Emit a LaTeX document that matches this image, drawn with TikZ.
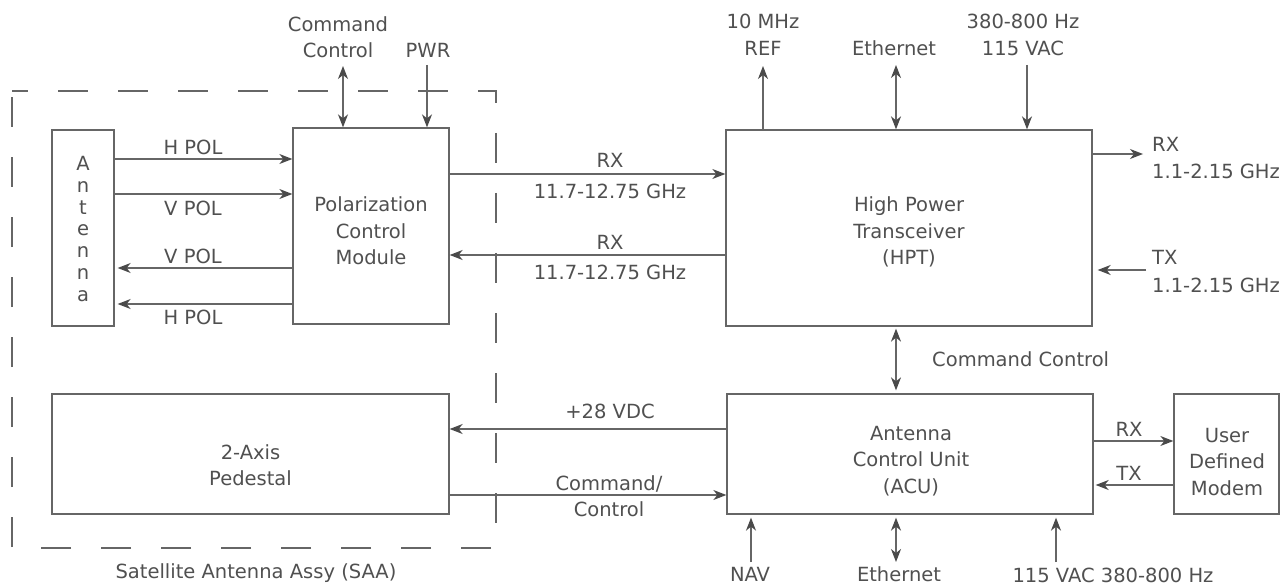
\documentclass[tikz,border=0pt]{standalone}
\usepackage{fontspec}
\setmainfont{DejaVu Sans}
\usetikzlibrary{arrows.meta}
\definecolor{ln}{HTML}{666666}
\definecolor{tx}{HTML}{505050}
\definecolor{hd}{HTML}{4A4A4A}
\begin{document}
\begin{tikzpicture}[x=1pt,y=-1pt,
  every node/.style={text=tx, font=\fontsize{19.5}{26.5}\selectfont, inner sep=0pt},
  box/.style={draw=ln, line width=1.3pt},
  btext/.style={align=center},
  lab/.style={anchor=base},
  labw/.style={anchor=base west},
  conn/.style={draw=ln, line width=1.3pt},
  arr/.style={conn, -{Stealth[length=13pt,width=10pt,inset=4pt,color=hd]}},
  darr/.style={conn, {Stealth[length=13pt,width=10pt,inset=4pt,color=hd]}-{Stealth[length=13pt,width=10pt,inset=4pt,color=hd]}},
  dashbox/.style={draw=ln, line width=1.2pt, dash pattern=on 30pt off 30pt, dash phase=14pt}
]
\useasboundingbox[fill=white] (0,0) rectangle (1281,585);

% dashed enclosure
\draw[dashbox] (12,91) -- (496,91) -- (496,548) -- (12,548) -- cycle;
\node[lab] (saa) at (256,578) {Satellite Antenna Assy (SAA)};

% boxes
\node[box, minimum width=62pt, minimum height=196pt] (ant) at (83,228) {};
\node[btext, font=\fontsize{19.5}{21.7}\selectfont] (antt) at (83,229) {A\\n\\t\\e\\n\\n\\a};
\node[box, minimum width=156pt, minimum height=196pt] (pcm) at (371,226) {};
\node[btext] (pcmt) at (371,231) {Polarization\\Control\\Module};
\node[box, minimum width=366pt, minimum height=196pt] (hpt) at (909,228) {};
\node[btext] (hptt) at (909,232) {High Power\\Transceiver\\(HPT)};
\node[box, minimum width=397pt, minimum height=120pt] (ped) at (250.5,454) {};
\node[btext] (pedt) at (250.5,465) {2-Axis\\Pedestal};
\node[box, minimum width=366pt, minimum height=120pt] (acu) at (910,454) {};
\node[btext] (acut) at (911,461) {Antenna\\Control Unit\\(ACU)};
\node[box, minimum width=105pt, minimum height=120pt] (mod) at (1226.5,454) {};
\node[btext] (modt) at (1227,462) {User\\Defined\\Modem};

% antenna <-> PCM
\draw[arr] (ant.east |- 0,159) -- (pcm.west |- 0,159);
\draw[arr] (ant.east |- 0,194) -- (pcm.west |- 0,194);
\draw[arr, shorten >=3pt] (pcm.west |- 0,268) -- (ant.east |- 0,268);
\draw[arr, shorten >=3pt] (pcm.west |- 0,304) -- (ant.east |- 0,304);
\node[lab] (hp1) at (193,155) {H POL};
\node[lab] (vp1) at (193,216) {V POL};
\node[lab] (vp2) at (193,263) {V POL};
\node[lab] (hp2) at (193,324) {H POL};

% PCM top
\coordinate (ccp) at (343,66);
\coordinate (pwr) at (427,65);
\draw[darr] (ccp) -- (pcm.north -| ccp);
\draw[arr] (pwr) -- (pcm.north -| pwr);
\node[lab] (cc1) at (338,32) {Command};
\node[lab] (cc2) at (338,58) {Control};
\node[lab] (pw) at (428,58) {PWR};

% PCM <-> HPT
\draw[arr] (pcm.east |- 0,174) -- (hpt.west |- 0,174);
\draw[arr] (hpt.west |- 0,255) -- (pcm.east |- 0,255);
\node[lab] (rx1) at (610,168) {RX};
\node[lab] (f1) at (610,199) {11.7-12.75 GHz};
\node[lab] (rx2) at (610,249) {RX};
\node[lab] (f2) at (610,279) {11.7-12.75 GHz};

% HPT top
\coordinate (ref) at (763,66);
\coordinate (eth1) at (896,65);
\coordinate (vac1) at (1027,65);
\draw[arr] (hpt.north -| ref) -- (ref);
\draw[darr] (eth1) -- (hpt.north -| eth1);
\draw[arr] (vac1) -- (hpt.north -| vac1);
\node[lab] (r1) at (763,29) {10 MHz};
\node[lab] (r2) at (763,56) {REF};
\node[lab] (e1) at (894,56) {Ethernet};
\node[lab] (v1) at (1023,29) {380-800 Hz};
\node[lab] (v2) at (1023,56) {115 VAC};

% HPT right
\coordinate (rxo) at (1143,154);
\coordinate (txi) at (1146,270);
\draw[arr] (hpt.east |- rxo) -- (rxo);
\draw[arr, shorten >=5pt] (txi) -- (hpt.east |- txi);
\node[labw] (rx3) at (1152,152) {RX};
\node[labw] (f3) at (1152,179) {1.1-2.15 GHz};
\node[labw] (tx3) at (1152,265) {TX};
\node[labw] (f4) at (1152,292) {1.1-2.15 GHz};

% HPT <-> ACU
\draw[darr, shorten <=2pt, shorten >=3pt] (hpt.south -| 896,0) -- (acu.north -| 896,0);
\node[labw] (cc3) at (932,366) {Command Control};

% ACU <-> pedestal
\draw[arr] (acu.west |- 0,429) -- (ped.east |- 0,429);
\draw[arr] (ped.east |- 0,495) -- (acu.west |- 0,495);
\node[lab] (vdc) at (610,418) {+28 VDC};
\node[lab] (cm1) at (609,490) {Command/};
\node[lab] (cm2) at (609,516) {Control};

% ACU <-> modem
\draw[arr] (acu.east |- 0,441) -- (mod.west |- 0,441);
\draw[arr, shorten >=2pt] (mod.west |- 0,485) -- (acu.east |- 0,485);
\node[lab] (rx4) at (1129,436) {RX};
\node[lab] (tx4) at (1129,480) {TX};

% ACU bottom
\coordinate (nav) at (751,562);
\coordinate (eth2) at (896,562);
\coordinate (vac2) at (1056,562);
\draw[arr, shorten >=3pt] (nav) -- (acu.south -| nav);
\draw[darr, shorten >=3pt] (eth2) -- (acu.south -| eth2);
\draw[arr, shorten >=3pt] (vac2) -- (acu.south -| vac2);
\node[lab] (nv) at (750,581) {NAV};
\node[lab] (e2) at (899,581) {Ethernet};
\node[lab] (v3) at (1113,582) {115 VAC 380-800 Hz};
\end{tikzpicture}
\end{document}
